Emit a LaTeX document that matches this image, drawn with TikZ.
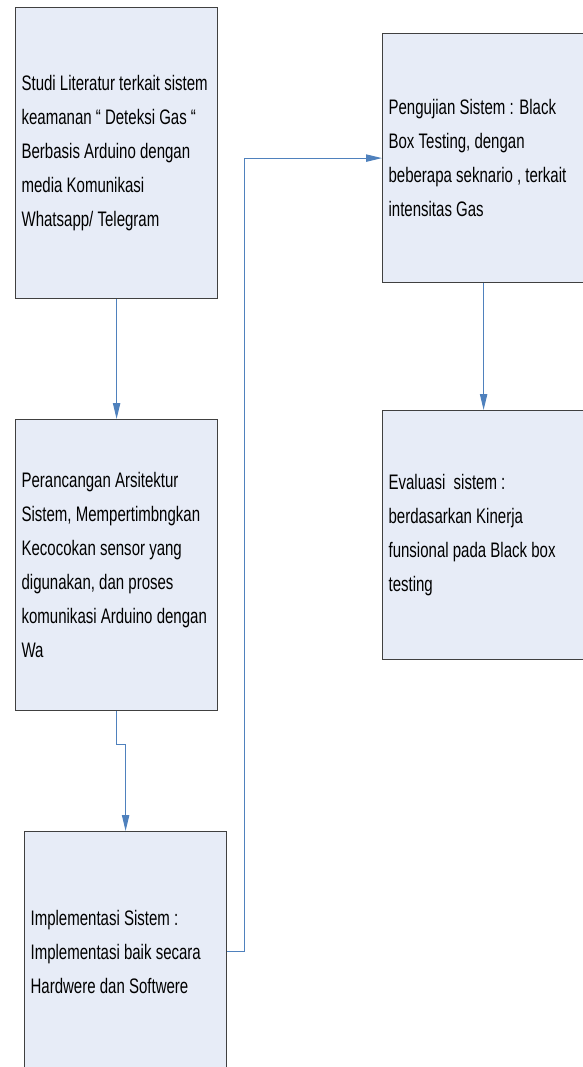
\documentclass[tikz,border=0pt]{standalone}
\usepackage{fontspec}
\setmainfont[FakeStretch=0.715]{Liberation Sans}
\usetikzlibrary{arrows.meta}
\definecolor{boxfill}{RGB}{231,236,247}
\definecolor{linkblue}{RGB}{79,129,189}
\hyphenpenalty=10000
\exhyphenpenalty=10000
\begin{document}
\begin{tikzpicture}[
    x=0.75pt, y=-0.75pt,
    box/.style = {rectangle, draw=black!75, line width=0.9pt, fill=boxfill, anchor=north west, minimum width=151.5pt, text width=142.5pt, inner xsep=4.5pt, align=flush left, font=\fontsize{15.75pt}{25.5pt}\selectfont},
    arrow/.style = {draw=linkblue, line width=0.8pt, -{Triangle[length=12pt, width=5.5pt]}}
]
    \useasboundingbox (0,0) rectangle (582,1067);

    \node[box, minimum height=218.25pt] (lit) at (15,7) {Studi Literatur terkait sistem\\ keamanan `` Deteksi Gas ``\\ Berbasis Arduino dengan\\ media Komunikasi\\ Whatsapp/ Telegram};
    \node[box, minimum height=218.25pt] (ranc) at (15,419) {Perancangan Arsitektur\\ Sistem, Mempertimbngkan\\ Kecocokan sensor yang\\ digunakan, dan proses\\ komunikasi Arduino dengan\\ Wa};
    \node[box, minimum height=180pt] (impl) at (24,831) {Implementasi Sistem :\\ Implementasi baik secara\\ Hardwere dan Softwere};

    \node[box, minimum height=186.75pt] (uji) at (382,33) {Pengujian Sistem : Black\\ Box Testing, dengan\\ beberapa seknario , terkait\\ intensitas Gas};
    \node[box, minimum height=186.75pt] (eval) at (382,410) {Evaluasi\ \ sistem :\\ berdasarkan Kinerja\\ funsional pada Black box\\ testing};

    % alur tahapan
    \path[arrow] (lit) -- (ranc);
    \path[arrow] (ranc.south) -- ++(0,33) -| (impl.north);
    \path[arrow] (impl.east) -- ++(17,0) |- (uji.west);
    \path[arrow] (uji) -- (eval);
\end{tikzpicture}
\end{document}
